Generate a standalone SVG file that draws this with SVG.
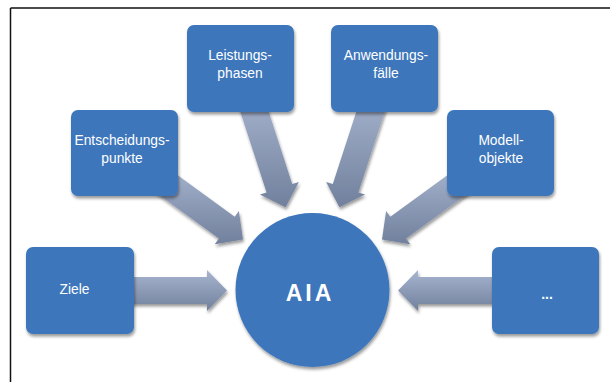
<svg xmlns="http://www.w3.org/2000/svg" width="610" height="382" viewBox="0 0 610 382">
  <defs>
    <linearGradient id="arrowFill" x1="0" y1="0" x2="0" y2="1">
      <stop offset="0" stop-color="#a7b5d0"/>
      <stop offset="1" stop-color="#71809c"/>
    </linearGradient>
    <filter id="shadow" x="-20%" y="-20%" width="140%" height="140%">
      <feDropShadow dx="1" dy="2.5" stdDeviation="1.5" flood-color="#000" flood-opacity="0.4"/>
    </filter>
  </defs>
  <style>
    .frame { stroke: #111; stroke-width: 1.5; fill: none; }
    .arrow { fill: url(#arrowFill); filter: url(#shadow); }
    .box { fill: #3c76bb; filter: url(#shadow); }
    .label { fill: #ffffff; font-family: "Liberation Sans", Arial, sans-serif; font-size: 13.8px; text-anchor: middle; }
    .dots { font-weight: bold; }
    .hub { fill: #ffffff; font-family: "Liberation Sans", Arial, sans-serif; font-size: 23px; font-weight: bold; letter-spacing: 3px; text-anchor: middle; }
  </style>
  <rect width="610" height="382" fill="#ffffff"/>

  <!-- frame: top and left rule -->
  <path class="frame" d="M10.5 8 H610 M10.5 8 V382"/>

  <!-- block arrows pointing at the hub -->
  <g id="connectors">
    <polygon class="arrow" points="120,277 207,277 207,270 227,290.5 207,311 207,304 120,304"/>
    <polygon class="arrow" points="505,277 418,277 418,270 398,290.5 418,311 418,304 505,304"/>
    <polygon class="arrow" points="161.9,163.8 234.7,216.7 238.9,211 243,239.4 214.8,244.2 218.9,238.5 146.1,185.6"/>
    <polygon class="arrow" points="463.1,163.8 390.3,216.7 386.1,211 382,239.4 410.2,244.2 406.1,238.5 478.9,185.6"/>
    <polygon class="arrow" points="261.3,89 292.2,184.1 298.9,182 285.6,207.3 259.9,194.6 266.6,192.5 235.7,97.4"/>
    <polygon class="arrow" points="363.7,89 332.8,184.1 326.1,182 339.4,207.3 365.1,194.6 358.4,192.5 389.3,97.4"/>
  </g>

  <g id="ziele">
    <rect class="box" x="26" y="247" width="108" height="87" rx="7"/>
    <text class="label" x="74.5" y="294">Ziele</text>
  </g>

  <g id="entscheidungspunkte">
    <rect class="box" x="71" y="110" width="107" height="86" rx="7"/>
    <text class="label" x="122" y="145">Entscheidungs-</text>
    <text class="label" x="122" y="163">punkte</text>
  </g>

  <g id="leistungsphasen">
    <rect class="box" x="187" y="25" width="107" height="87" rx="7"/>
    <text class="label" x="240" y="60">Leistungs-</text>
    <text class="label" x="240" y="78">phasen</text>
  </g>

  <g id="anwendungsfaelle">
    <rect class="box" x="331" y="25" width="107" height="87" rx="7"/>
    <text class="label" x="386" y="60">Anwendungs-</text>
    <text class="label" x="386" y="78">fälle</text>
  </g>

  <g id="modellobjekte">
    <rect class="box" x="447" y="110" width="107" height="86" rx="7"/>
    <text class="label" x="501" y="145">Modell-</text>
    <text class="label" x="501" y="163">objekte</text>
  </g>

  <g id="weitere">
    <rect class="box" x="492" y="247" width="107" height="87" rx="7"/>
    <text class="label dots" x="547" y="299">...</text>
  </g>

  <g id="aia">
    <circle class="box" cx="312.5" cy="290" r="77"/>
    <text class="hub" x="310" y="300.5">AIA</text>
  </g>
</svg>
